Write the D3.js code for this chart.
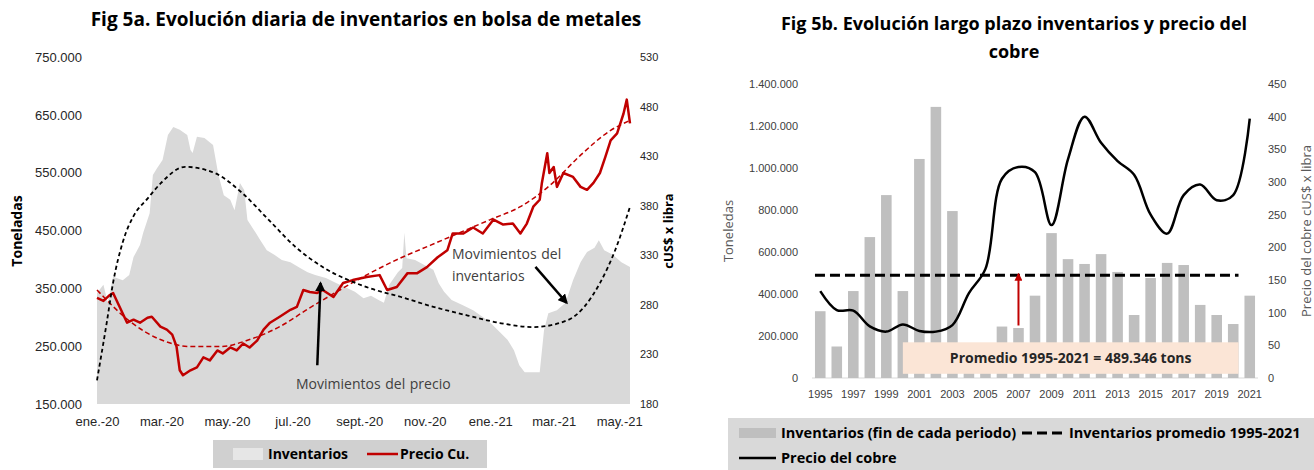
<!DOCTYPE html>
<html>
<head>
<meta charset="utf-8">
<script src="https://cdn.jsdelivr.net/npm/d3@7"></script>
<style>
  body { margin: 0; background: #fff; }
  svg { display: block; font-family: "Open Sans", Lato, sans-serif; }
</style>
</head>
<body>
<script>
// ---- Fig 5a data (daily) ----
const inventarios = [
  ["2020-01-01", 342000], ["2020-01-07", 356000], ["2020-01-11", 325000], ["2020-01-16", 370000],
  ["2020-01-25", 364000], ["2020-01-31", 373000], ["2020-02-04", 404000], ["2020-02-10", 425000],
  ["2020-02-13", 446000], ["2020-02-19", 480000], ["2020-02-22", 546000], ["2020-02-26", 558000],
  ["2020-03-02", 572000], ["2020-03-07", 615000], ["2020-03-12", 629000], ["2020-03-18", 624000],
  ["2020-03-25", 615000], ["2020-03-28", 589000], ["2020-03-30", 584000], ["2020-04-03", 612000],
  ["2020-04-10", 610000], ["2020-04-18", 598000], ["2020-04-23", 546000], ["2020-04-28", 511000],
  ["2020-05-04", 503000], ["2020-05-08", 485000], ["2020-05-13", 532000], ["2020-05-17", 520000],
  ["2020-05-20", 468000], ["2020-05-26", 451000], ["2020-06-01", 433000], ["2020-06-07", 416000],
  ["2020-06-14", 408000], ["2020-06-21", 399000], ["2020-06-29", 395000], ["2020-07-08", 385000],
  ["2020-07-15", 378000], ["2020-07-22", 373000], ["2020-08-01", 368000], ["2020-08-11", 359000],
  ["2020-08-20", 351000], ["2020-08-28", 344000], ["2020-09-05", 333000], ["2020-09-12", 337000],
  ["2020-09-19", 330000], ["2020-09-24", 325000], ["2020-09-29", 356000], ["2020-10-07", 378000],
  ["2020-10-11", 385000], ["2020-10-13", 446000], ["2020-10-15", 402000], ["2020-10-23", 399000],
  ["2020-11-01", 390000], ["2020-11-09", 382000], ["2020-11-14", 359000], ["2020-11-19", 344000],
  ["2020-11-26", 330000], ["2020-12-06", 321000], ["2020-12-16", 312000], ["2020-12-26", 299000],
  ["2021-01-03", 287000], ["2021-01-10", 274000], ["2021-01-17", 261000], ["2021-01-23", 243000],
  ["2021-01-28", 217000], ["2021-02-02", 205000], ["2021-02-09", 205000], ["2021-02-16", 205000],
  ["2021-02-20", 278000], ["2021-02-24", 307000], ["2021-03-04", 312000], ["2021-03-12", 325000],
  ["2021-03-19", 364000], ["2021-03-26", 395000], ["2021-04-01", 413000], ["2021-04-08", 420000],
  ["2021-04-12", 433000], ["2021-04-17", 416000], ["2021-04-25", 408000], ["2021-05-03", 395000],
  ["2021-05-11", 387000]
];

const precioCu = [
  ["2020-01-01", 287], ["2020-01-07", 284], ["2020-01-13", 290], ["2020-01-16", 292],
  ["2020-01-22", 278], ["2020-01-29", 262], ["2020-02-04", 265], ["2020-02-10", 262],
  ["2020-02-17", 267], ["2020-02-21", 268], ["2020-02-29", 258], ["2020-03-06", 255],
  ["2020-03-11", 250], ["2020-03-15", 238], ["2020-03-18", 214], ["2020-03-21", 209],
  ["2020-03-28", 214], ["2020-04-03", 217], ["2020-04-09", 227], ["2020-04-15", 224],
  ["2020-04-22", 234], ["2020-04-27", 231], ["2020-05-04", 237], ["2020-05-10", 234],
  ["2020-05-16", 241], ["2020-05-22", 237], ["2020-05-29", 244], ["2020-06-04", 255],
  ["2020-06-10", 262], ["2020-06-19", 268], ["2020-06-29", 275], ["2020-07-05", 278],
  ["2020-07-11", 295], ["2020-07-17", 293], ["2020-07-24", 292], ["2020-07-29", 295],
  ["2020-08-08", 288], ["2020-08-17", 302], ["2020-08-26", 305], ["2020-09-08", 308],
  ["2020-09-20", 310], ["2020-09-27", 295], ["2020-10-06", 298], ["2020-10-16", 312],
  ["2020-10-25", 312], ["2020-11-03", 318], ["2020-11-13", 328], ["2020-11-22", 335],
  ["2020-11-27", 352], ["2020-12-07", 352], ["2020-12-16", 358], ["2020-12-25", 352],
  ["2021-01-04", 366], ["2021-01-13", 361], ["2021-01-22", 362], ["2021-01-29", 352],
  ["2021-02-04", 362], ["2021-02-10", 379], ["2021-02-16", 386], ["2021-02-18", 403],
  ["2021-02-23", 433], ["2021-02-25", 413], ["2021-03-01", 419], ["2021-03-04", 399],
  ["2021-03-10", 413], ["2021-03-19", 409], ["2021-03-26", 399], ["2021-04-01", 396],
  ["2021-04-07", 403], ["2021-04-13", 413], ["2021-04-18", 429], ["2021-04-23", 446],
  ["2021-04-29", 453], ["2021-05-05", 473], ["2021-05-08", 487], ["2021-05-11", 463]
];

// trend curves as drawn (sampled)
const tendPrecio = [
  ["2020-01-01", 295], ["2020-02-01", 263], ["2020-02-29", 245], ["2020-03-28", 238],
  ["2020-04-25", 238], ["2020-05-22", 245], ["2020-06-19", 258], ["2020-07-17", 277],
  ["2020-08-14", 295], ["2020-09-11", 312], ["2020-10-09", 327], ["2020-11-06", 340],
  ["2020-12-04", 353], ["2021-01-01", 366], ["2021-01-29", 379], ["2021-02-26", 401],
  ["2021-03-26", 431], ["2021-04-23", 456], ["2021-05-11", 466]
];
const tendInventario = [
  ["2020-01-01", 191000], ["2020-01-10", 290000], ["2020-01-16", 360000], ["2020-01-25", 430000],
  ["2020-02-04", 475000], ["2020-02-17", 505000], ["2020-03-01", 533000], ["2020-03-23", 560000],
  ["2020-04-20", 549000], ["2020-05-15", 515000], ["2020-06-09", 468000], ["2020-07-04", 421000],
  ["2020-07-29", 387000], ["2020-09-08", 352000], ["2020-10-10", 335000], ["2020-11-09", 318000],
  ["2020-12-11", 303000], ["2021-01-10", 290000], ["2021-02-10", 283000], ["2021-03-14", 295000],
  ["2021-04-13", 359000], ["2021-04-27", 415000], ["2021-05-11", 491000]
];

const monthTicks = ["2020-01-01", "2020-03-01", "2020-05-01", "2020-07-01", "2020-09-01",
  "2020-11-01", "2021-01-01", "2021-03-01", "2021-05-01"];
const monthLabels = ["ene.-20", "mar.-20", "may.-20", "jul.-20", "sept.-20",
  "nov.-20", "ene.-21", "mar.-21", "may.-21"];
const tonTicks = [150000, 250000, 350000, 450000, 550000, 650000, 750000];
const centTicks = [180, 230, 280, 330, 380, 430, 480, 530];

// ---- Fig 5b data (annual) ----
const years = [1995, 1996, 1997, 1998, 1999, 2000, 2001, 2002, 2003, 2004, 2005, 2006, 2007, 2008,
  2009, 2010, 2011, 2012, 2013, 2014, 2015, 2016, 2017, 2018, 2019, 2020, 2021];
const invAnual = [318000, 150000, 414000, 671000, 871000, 414000, 1043000, 1291000, 795000, 95000,
  125000, 245000, 238000, 392000, 690000, 566000, 543000, 590000, 505000, 300000, 476000, 548000,
  538000, 348000, 300000, 257000, 392000];
const precioAnual = [133, 104, 103, 79, 71, 82, 72, 71, 81, 130, 167, 305, 323, 315, 234, 335,
  400, 360, 332, 311, 250, 221, 280, 296, 272, 280, 397];
const promedioInv = 489346;
const invTicks = [0, 200000, 400000, 600000, 800000, 1000000, 1200000, 1400000];
const precioTicks = [0, 50, 100, 150, 200, 250, 300, 350, 400, 450];

// ---- setup ----
const width = 1314, height = 470;
const parse = d3.timeParse("%Y-%m-%d");
const loc = d3.formatLocale({ decimal: ",", thousands: ".", grouping: [3], currency: ["$", ""] });
const fmtTon = loc.format(",.0f");

const svg = d3.select("body").append("svg")
  .attr("width", width).attr("height", height)
  .attr("viewBox", `0 0 ${width} ${height}`);

const defs = svg.append("defs");
function arrowMarker(id, color) {
  defs.append("marker")
    .attr("id", id).attr("viewBox", "0 0 10 10")
    .attr("refX", 8).attr("refY", 5)
    .attr("markerWidth", 4).attr("markerHeight", 4)
    .attr("orient", "auto")
    .append("path").attr("d", "M0,0L10,5L0,10z").attr("fill", color);
}
arrowMarker("arrBlack", "#000");
arrowMarker("arrRed", "#c00000");

// ================= Fig 5a =================
const x1 = d3.scaleTime().domain([parse("2020-01-01"), parse("2021-05-11")]).range([97, 630]);
const yTon = d3.scaleLinear().domain([150000, 750000]).range([404, 57]);
const yCent = d3.scaleLinear().domain([180, 530]).range([404, 57]);

const g1 = svg.append("g");

g1.append("text")
  .attr("x", 366).attr("y", 26)
  .attr("text-anchor", "middle")
  .attr("font-size", 19).attr("font-weight", "bold").attr("fill", "#000")
  .text("Fig 5a. Evolución diaria de inventarios en bolsa de metales");

g1.append("path")
  .datum(inventarios)
  .attr("fill", "#d9d9d9")
  .attr("d", d3.area()
    .x(d => x1(parse(d[0])))
    .y0(yTon(150000))
    .y1(d => yTon(d[1])));

g1.append("path")
  .datum(tendPrecio)
  .attr("fill", "none").attr("stroke", "#c00000")
  .attr("stroke-width", 1.5).attr("stroke-dasharray", "5,3")
  .attr("d", d3.line().curve(d3.curveMonotoneX)
    .x(d => x1(parse(d[0]))).y(d => yCent(d[1])));

g1.append("path")
  .datum(precioCu)
  .attr("fill", "none").attr("stroke", "#c00000")
  .attr("stroke-width", 2.5).attr("stroke-linejoin", "round")
  .attr("d", d3.line().x(d => x1(parse(d[0]))).y(d => yCent(d[1])));

g1.append("path")
  .datum(tendInventario)
  .attr("fill", "none").attr("stroke", "#000")
  .attr("stroke-width", 1.8).attr("stroke-dasharray", "4,3")
  .attr("d", d3.line().curve(d3.curveMonotoneX)
    .x(d => x1(parse(d[0]))).y(d => yTon(d[1])));

// axes
const axL = g1.append("g").attr("transform", "translate(97,0)")
  .call(d3.axisLeft(yTon).tickValues(tonTicks).tickFormat(fmtTon).tickSize(0).tickPadding(15));
const axR = g1.append("g").attr("transform", "translate(630,0)")
  .call(d3.axisRight(yCent).tickValues(centTicks).tickSize(0).tickPadding(10));
const axB = g1.append("g").attr("transform", "translate(0,404)")
  .call(d3.axisBottom(x1).tickValues(monthTicks.map(parse))
    .tickFormat((d, i) => monthLabels[i]).tickSize(0).tickPadding(13));
[axL, axR, axB].forEach(a => {
  a.select(".domain").remove();
  a.selectAll("text").attr("fill", "#262626").attr("font-family", null);
});
axL.selectAll("text").attr("font-size", 13);
axR.selectAll("text").attr("font-size", 11);
axB.selectAll("text").attr("font-size", 13);

g1.append("text")
  .attr("transform", "translate(22,231) rotate(-90)")
  .attr("text-anchor", "middle").attr("font-size", 14).attr("font-weight", "bold")
  .text("Toneladas");
g1.append("text")
  .attr("transform", "translate(673,231) rotate(-90)")
  .attr("text-anchor", "middle").attr("font-size", 13).attr("font-weight", "bold")
  .text("cUS$ x libra");

// annotations
g1.append("line")
  .attr("x1", x1(parse("2020-07-24"))).attr("y1", yTon(217000))
  .attr("x2", x1(parse("2020-07-27"))).attr("y2", yTon(359000))
  .attr("stroke", "#000").attr("stroke-width", 2.5)
  .attr("marker-end", "url(#arrBlack)");
g1.append("text")
  .attr("x", 296).attr("y", 389)
  .attr("font-size", 14).attr("fill", "#404040").attr("word-spacing", 1)
  .text("Movimientos del precio");

g1.append("line")
  .attr("x1", x1(parse("2021-02-12"))).attr("y1", yTon(387000))
  .attr("x2", x1(parse("2021-03-13"))).attr("y2", yTon(325000))
  .attr("stroke", "#000").attr("stroke-width", 2.5)
  .attr("marker-end", "url(#arrBlack)");
const tInv = g1.append("text").attr("font-size", 14).attr("fill", "#404040").attr("word-spacing", 1);
tInv.append("tspan").attr("x", 452).attr("y", 259).text("Movimientos del");
tInv.append("tspan").attr("x", 452).attr("y", 281).text("inventarios");

// legend
const lg1 = g1.append("g");
lg1.append("rect").attr("x", 213).attr("y", 440).attr("width", 274).attr("height", 28).attr("fill", "#d0d0d0");
lg1.append("rect").attr("x", 233).attr("y", 448).attr("width", 30).attr("height", 12).attr("fill", "#e6e6e6");
lg1.append("text").attr("x", 268).attr("y", 459).attr("font-size", 14).attr("font-weight", "bold").text("Inventarios");
lg1.append("line").attr("x1", 367).attr("x2", 398).attr("y1", 454).attr("y2", 454)
  .attr("stroke", "#c00000").attr("stroke-width", 2.5);
lg1.append("text").attr("x", 400).attr("y", 459).attr("font-size", 14).attr("font-weight", "bold").text("Precio Cu.");

// ================= Fig 5b =================
const x2 = d3.scaleBand().domain(years).range([812, 1258]).paddingInner(0.36).paddingOuter(0.18);
const yInv = d3.scaleLinear().domain([0, 1400000]).range([378, 84]);
const yPre = d3.scaleLinear().domain([0, 450]).range([378, 84]);
const bw = x2.bandwidth();

const g2 = svg.append("g");
const t2 = g2.append("text")
  .attr("text-anchor", "middle")
  .attr("font-size", 18).attr("font-weight", "bold");
t2.append("tspan").attr("x", 1014).attr("y", 30).text("Fig 5b. Evolución largo plazo inventarios y precio del");
t2.append("tspan").attr("x", 1014).attr("y", 58).text("cobre");

g2.append("line")
  .attr("x1", 812).attr("x2", 1258).attr("y1", yInv(0)).attr("y2", yInv(0))
  .attr("stroke", "#d9d9d9").attr("stroke-width", 1);

g2.selectAll("rect.bar")
  .data(years)
  .join("rect")
  .attr("class", "bar")
  .attr("x", d => x2(d))
  .attr("width", bw)
  .attr("y", (d, i) => yInv(invAnual[i]))
  .attr("height", (d, i) => yInv(0) - yInv(invAnual[i]))
  .attr("fill", "#bfbfbf");

// average dashed line
g2.append("line")
  .attr("x1", x2(1995)).attr("x2", x2(2020) + bw)
  .attr("y1", yInv(promedioInv)).attr("y2", yInv(promedioInv))
  .attr("stroke", "#000").attr("stroke-width", 3).attr("stroke-dasharray", "10,5");

// copper price
g2.append("path")
  .datum(years.map((y, i) => [y, precioAnual[i]]))
  .attr("fill", "none").attr("stroke", "#000").attr("stroke-width", 2.5)
  .attr("d", d3.line().curve(d3.curveCatmullRom.alpha(0.5))
    .x(d => x2(d[0]) + bw / 2).y(d => yPre(d[1])));

// annotation box
g2.append("rect")
  .attr("x", x2(2000) + bw / 2).attr("width", x2(2020) + bw - x2(2000) - bw / 2)
  .attr("y", yInv(170000)).attr("height", yInv(20000) - yInv(170000))
  .attr("fill", "#fbe5d6");
g2.append("text")
  .attr("x", (x2(2000) + x2(2020) + bw * 1.5) / 2).attr("y", yInv(95000) + 5)
  .attr("text-anchor", "middle").attr("font-size", 14).attr("font-weight", "bold").attr("fill", "#262626")
  .text("Promedio 1995-2021 = " + fmtTon(promedioInv) + " tons");
g2.append("line")
  .attr("x1", x2(2007) + bw / 2).attr("x2", x2(2007) + bw / 2)
  .attr("y1", yInv(250000)).attr("y2", yInv(promedioInv) - 1)
  .attr("stroke", "#c00000").attr("stroke-width", 2)
  .attr("marker-end", "url(#arrRed)");

// axes
const bL = g2.append("g").attr("transform", "translate(812,0)")
  .call(d3.axisLeft(yInv).tickValues(invTicks).tickFormat(fmtTon).tickSize(0).tickPadding(14));
const bR = g2.append("g").attr("transform", "translate(1258,0)")
  .call(d3.axisRight(yPre).tickValues(precioTicks).tickSize(0).tickPadding(10));
const bB = g2.append("g").attr("transform", "translate(0,378)")
  .call(d3.axisBottom(x2).tickValues(years.filter((d, i) => i % 2 === 0)).tickSize(0).tickPadding(12));
[bL, bR, bB].forEach(a => {
  a.select(".domain").remove();
  a.selectAll("text").attr("fill", "#404040").attr("font-family", null).attr("font-size", 11);
});

g2.append("text")
  .attr("transform", "translate(733,231) rotate(-90)")
  .attr("text-anchor", "middle").attr("font-size", 13).attr("fill", "#595959")
  .text("Toneledas");
g2.append("text")
  .attr("transform", "translate(1311,231) rotate(-90)")
  .attr("text-anchor", "middle").attr("font-size", 13).attr("fill", "#595959")
  .text("Precio del cobre cUS$ x libra");

// legend
const lg2 = g2.append("g");
lg2.append("rect").attr("x", 728).attr("y", 418).attr("width", 586).attr("height", 52).attr("fill", "#d9d9d9");
lg2.append("rect").attr("x", 739).attr("y", 428).attr("width", 37).attr("height", 10).attr("fill", "#bfbfbf");
lg2.append("text").attr("x", 781).attr("y", 438).attr("font-size", 14.5).attr("font-weight", "bold")
  .text("Inventarios (fin de cada periodo)");
lg2.append("line").attr("x1", 1022).attr("x2", 1065).attr("y1", 433).attr("y2", 433)
  .attr("stroke", "#000").attr("stroke-width", 3).attr("stroke-dasharray", "10,5");
lg2.append("text").attr("x", 1069).attr("y", 438).attr("font-size", 14.5).attr("font-weight", "bold")
  .text("Inventarios promedio 1995-2021");
lg2.append("line").attr("x1", 739).attr("x2", 776).attr("y1", 458).attr("y2", 458)
  .attr("stroke", "#000").attr("stroke-width", 2.5);
lg2.append("text").attr("x", 781).attr("y", 463).attr("font-size", 14.5).attr("font-weight", "bold")
  .text("Precio del cobre");
</script>
</body>
</html>
